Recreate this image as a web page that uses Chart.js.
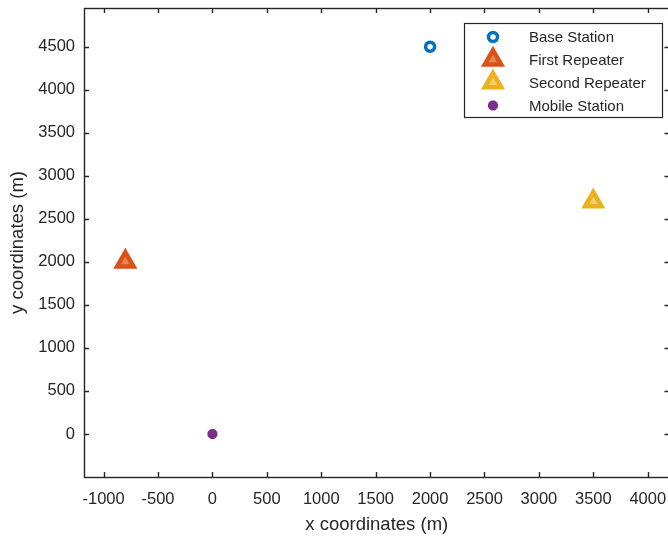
<!DOCTYPE html>
<html>
<head>
<meta charset="utf-8">
<script src="https://cdn.jsdelivr.net/npm/chart.js@4.4.1/dist/chart.umd.min.js"></script>
<style>
    html, body { margin: 0; padding: 0; background: #fff; overflow: hidden; }
    #wrap { position: absolute; left: 0; top: 0; width: 690px; height: 537px; }
</style>
</head>
<body>
<div id="wrap"><canvas id="plot" width="690" height="537"></canvas></div>
<script>
const seriesNames = ['Base Station', 'First Repeater', 'Second Repeater', 'Mobile Station'];
const seriesX = [2000, -800, 3500, 0];
const seriesY = [4500, 2000, 2700, 0];
const xTicks = [-1000, -500, 0, 500, 1000, 1500, 2000, 2500, 3000, 3500, 4000];
const yTicks = [0, 500, 1000, 1500, 2000, 2500, 3000, 3500, 4000, 4500];
const xLimits = [-1180, 4200];
const yLimits = [-500, 4950];

// marker look per series (matlab default colour order)
const markerStyles = [
    { pointStyle: 'circle', radius: 4.5, borderWidth: 3.5, color: '#0072BD', fill: '#ffffff' },
    { pointStyle: 'triangle', radius: 9.5, borderWidth: 4.5, color: '#D95319', fill: '#e8884e' },
    { pointStyle: 'triangle', radius: 9.5, borderWidth: 4.5, color: '#EDB120', fill: '#f4cf70' },
    { pointStyle: 'star', radius: 5, borderWidth: 3.5, color: '#7E2F8E', fill: '#7E2F8E' }
];

const axisColor = '#262626';
const fontFamily = '"Liberation Sans", Arial, sans-serif';

const datasets = seriesNames.map((name, i) => {
    const s = markerStyles[i];
    return {
        label: name,
        data: [{ x: seriesX[i], y: seriesY[i] }],
        showLine: false,
        pointStyle: s.pointStyle,
        pointRadius: s.radius,
        pointHoverRadius: s.radius,
        pointBorderWidth: s.borderWidth,
        pointBorderColor: s.color,
        pointBackgroundColor: s.fill,
        clip: false
    };
});

// box around the axes plus inward tick marks on all four sides
const axesBox = {
    id: 'axesBox',
    beforeDatasetsDraw(chart) {
        const { ctx, chartArea: a, scales: { x, y } } = chart;
        const len = 5;
        ctx.save();
        ctx.strokeStyle = axisColor;
        ctx.lineWidth = 1.4;
        ctx.beginPath();
        x.ticks.forEach(t => {
            const px = Math.round(x.getPixelForValue(t.value)) + 0.5;
            ctx.moveTo(px, a.bottom); ctx.lineTo(px, a.bottom - len);
            ctx.moveTo(px, a.top); ctx.lineTo(px, a.top + len);
        });
        y.ticks.forEach(t => {
            const py = Math.round(y.getPixelForValue(t.value)) + 0.5;
            ctx.moveTo(a.left, py); ctx.lineTo(a.left + len, py);
            ctx.moveTo(a.right, py); ctx.lineTo(a.right - len, py);
        });
        ctx.stroke();
        ctx.strokeRect(Math.round(a.left) + 0.5, Math.round(a.top) + 0.5,
            Math.round(a.right - a.left), Math.round(a.bottom - a.top));
        ctx.restore();
    }
};

// boxed legend in the upper right corner
const boxLegend = {
    id: 'boxLegend',
    afterDraw(chart) {
        const ctx = chart.ctx;
        const left = 464, top = 23, width = 198, height = 94;
        const rowH = 22.8, markX = 493, textX = 529;
        ctx.save();
        ctx.fillStyle = '#ffffff';
        ctx.fillRect(left, top, width, height);
        ctx.strokeStyle = axisColor;
        ctx.lineWidth = 1.2;
        ctx.strokeRect(left + 0.5, top + 0.5, width, height);
        ctx.font = '15px ' + fontFamily;
        ctx.textBaseline = 'middle';
        ctx.textAlign = 'left';
        chart.data.datasets.forEach((ds, i) => {
            const cy = top + 14 + i * rowH;
            ctx.fillStyle = ds.pointBackgroundColor;
            ctx.strokeStyle = ds.pointBorderColor;
            ctx.lineWidth = ds.pointBorderWidth;
            Chart.helpers.drawPoint(ctx, {
                pointStyle: ds.pointStyle,
                radius: ds.pointRadius,
                borderWidth: ds.pointBorderWidth,
                rotation: 0
            }, markX, cy);
            ctx.fillStyle = axisColor;
            ctx.fillText(ds.label, textX, cy + 1);
        });
        ctx.restore();
    }
};

const plainLabel = v => String(v);

new Chart(document.getElementById('plot'), {
    type: 'scatter',
    data: { datasets },
    options: {
        responsive: false,
        animation: false,
        devicePixelRatio: 1,
        layout: { autoPadding: false, padding: { top: 8, left: 0, right: 20.5, bottom: 0 } },
        plugins: {
            legend: { display: false },
            tooltip: { enabled: false }
        },
        scales: {
            x: {
                type: 'linear',
                min: xLimits[0],
                max: xLimits[1],
                afterBuildTicks: scale => { scale.ticks = xTicks.map(v => ({ value: v })); },
                afterFit: scale => {
                    scale.height = 60;
                    scale.paddingLeft = 0;
                    scale.paddingRight = 0;
                },
                grid: { display: false, drawTicks: false },
                border: { display: false },
                ticks: {
                    padding: 13,
                    color: axisColor,
                    font: { family: fontFamily, size: 16.5 },
                    maxRotation: 0,
                    callback: plainLabel
                },
                title: {
                    display: true,
                    text: 'x coordinates (m)',
                    color: axisColor,
                    font: { family: fontFamily, size: 18.5 },
                    padding: { top: 0, bottom: 1 }
                }
            },
            y: {
                type: 'linear',
                min: yLimits[0],
                max: yLimits[1],
                afterBuildTicks: scale => { scale.ticks = yTicks.map(v => ({ value: v })); },
                afterFit: scale => {
                    scale.width = 84;
                    scale.paddingTop = 0;
                    scale.paddingBottom = 0;
                },
                grid: { display: false, drawTicks: false },
                border: { display: false },
                ticks: {
                    padding: 9,
                    color: axisColor,
                    font: { family: fontFamily, size: 16.5 },
                    callback: plainLabel
                },
                title: {
                    display: true,
                    text: 'y coordinates (m)',
                    color: axisColor,
                    font: { family: fontFamily, size: 18.5 },
                    padding: { top: 7, bottom: 0 }
                }
            }
        }
    },
    plugins: [axesBox, boxLegend]
});
</script>
</body>
</html>
